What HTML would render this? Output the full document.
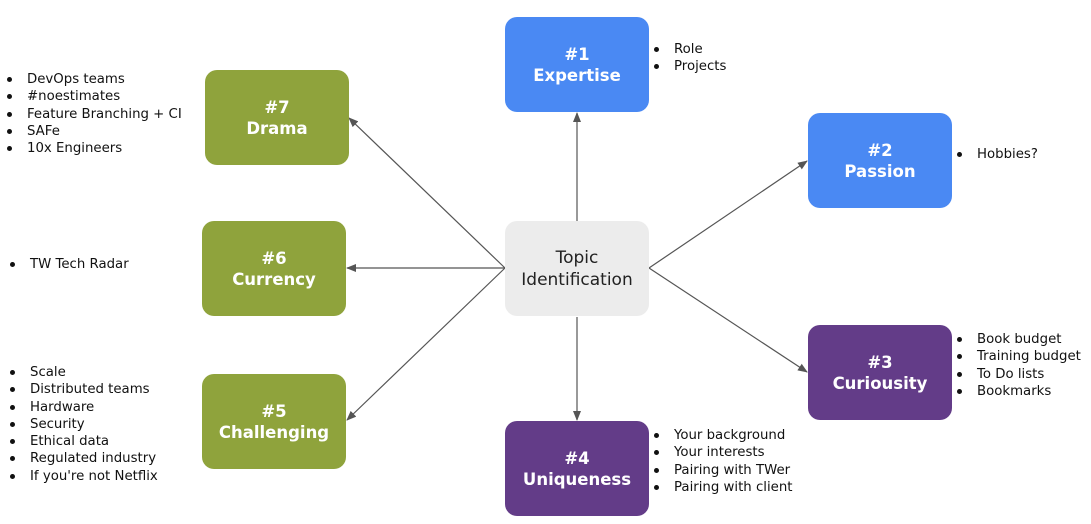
<!DOCTYPE html>
<html><head><meta charset="utf-8"><style>
body{margin:0;width:1091px;height:524px;background:#fff;font-family:"DejaVu Sans","Liberation Sans",sans-serif;position:relative;overflow:hidden}
.b{position:absolute;width:144px;height:95px;border-radius:12px;color:#fff;font-weight:bold;font-size:16.5px;display:flex;align-items:center;justify-content:center;text-align:center;line-height:21px}
.blue{background:#4a89f3}.green{background:#8fa33c}.purple{background:#633c88}
.c{background:#ececec;color:#222;font-weight:normal;font-size:17px;line-height:22px}
ul{position:absolute;margin:0;padding:0;list-style:none;font-size:13.3px;line-height:17.3px;color:#111}
li{position:relative;padding-left:22px}
li:before{content:"";position:absolute;left:2px;top:6px;width:5px;height:5px;border-radius:50%;background:#111}
svg{position:absolute;left:0;top:0}
</style></head><body>
<svg width="1091" height="524"><defs><marker id="a" markerWidth="10" markerHeight="8" refX="9" refY="4" orient="auto" markerUnits="userSpaceOnUse"><path d="M0,0L10,4L0,8z" fill="#555"/></marker></defs>
<g stroke="#555" stroke-width="1.2" fill="none" marker-end="url(#a)">
<line x1="577" y1="221" x2="577" y2="113"/>
<line x1="649" y1="268" x2="807" y2="161"/>
<line x1="649" y1="268" x2="807" y2="372"/>
<line x1="577" y1="317" x2="577" y2="420"/>
<line x1="505" y1="268" x2="347" y2="268"/>
<line x1="505" y1="268" x2="347" y2="420"/>
<line x1="505" y1="268" x2="349" y2="118"/>
</g></svg>
<div class="b c" style="left:505px;top:221px">Topic<br>Identification</div>
<div class="b blue" style="left:505px;top:17px">#1<br>Expertise</div>
<div class="b blue" style="left:808px;top:113px">#2<br>Passion</div>
<div class="b purple" style="left:808px;top:325px">#3<br>Curiousity</div>
<div class="b purple" style="left:505px;top:421px">#4<br>Uniqueness</div>
<div class="b green" style="left:202px;top:374px">#5<br>Challenging</div>
<div class="b green" style="left:202px;top:221px">#6<br>Currency</div>
<div class="b green" style="left:205px;top:70px">#7<br>Drama</div>
<ul style="left:652px;top:41px"><li>Role</li><li>Projects</li></ul>
<ul style="left:955px;top:146px"><li>Hobbies?</li></ul>
<ul style="left:955px;top:331px"><li>Book budget</li><li>Training budget</li><li>To Do lists</li><li>Bookmarks</li></ul>
<ul style="left:652px;top:427px"><li>Your background</li><li>Your interests</li><li>Pairing with TWer</li><li>Pairing with client</li></ul>
<ul style="left:8px;top:364px"><li>Scale</li><li>Distributed teams</li><li>Hardware</li><li>Security</li><li>Ethical data</li><li>Regulated industry</li><li>If you're not Netflix</li></ul>
<ul style="left:8px;top:256px"><li>TW Tech Radar</li></ul>
<ul style="left:5px;top:71px"><li>DevOps teams</li><li>#noestimates</li><li>Feature Branching + CI</li><li>SAFe</li><li>10x Engineers</li></ul>
</body></html>
